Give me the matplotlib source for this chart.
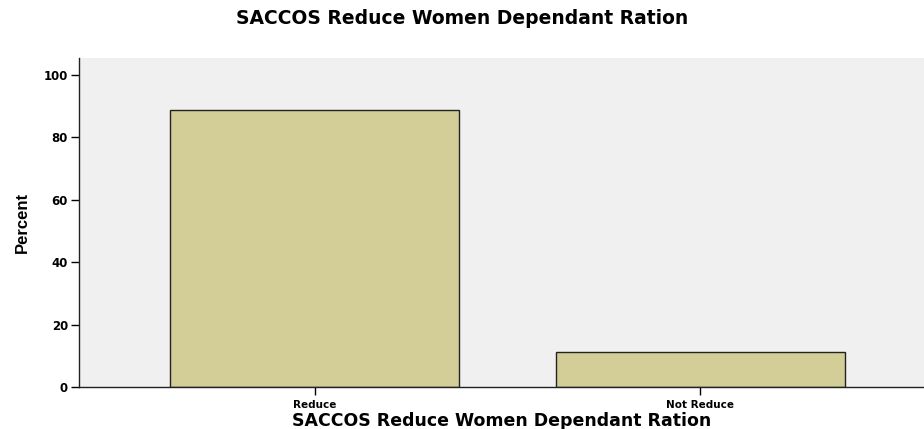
import matplotlib
matplotlib.use("Agg")
from matplotlib import pyplot as plt

categories = ["Reduce", "Not Reduce"]
percent = [88.9, 11.1]
yticks = [0, 20, 40, 60, 80, 100]

title = "SACCOS Reduce Women Dependant Ration"

fig = plt.figure(figsize=(9.24, 4.29), dpi=100)
ax = fig.add_axes([79/924, 1-387/429, 1-79/924, (387-58)/429])
ax.set_facecolor("#f0f0f0")

x = list(range(len(categories)))
ax.bar(x, percent, width=0.75, color="#d3ce97", edgecolor="#222222", linewidth=1.0)

ax.set_xlim(-0.611, 1.58)
ax.set_ylim(0, 105.4)
ax.set_yticks(yticks)
ax.set_yticklabels([str(v) for v in yticks], fontsize=8.5, fontweight="bold", family="DejaVu Sans")
ax.set_xticks(x)
ax.set_xticklabels(categories, fontsize=7.5, fontweight="bold", family="DejaVu Sans")
ax.tick_params(axis="y", length=6, width=1, pad=2)
ax.tick_params(axis="x", length=6, width=1, pad=3)

for s in ["top", "right"]:
    ax.spines[s].set_visible(False)
for s in ["left", "bottom"]:
    ax.spines[s].set_color("#222222")
    ax.spines[s].set_linewidth(1.0)

ax.set_ylabel("Percent", fontsize=12, fontweight="bold",
              family=["Liberation Sans Narrow", "Liberation Sans"], labelpad=10)
ax.set_xlabel(title, fontsize=12.5, fontweight="bold", family="DejaVu Sans", labelpad=2)
fig.text(0.5, 1-19/429, title, ha="center", va="center", fontsize=13.5,
         fontweight="bold", family="DejaVu Sans")

fig.savefig("out.png", dpi=100)
